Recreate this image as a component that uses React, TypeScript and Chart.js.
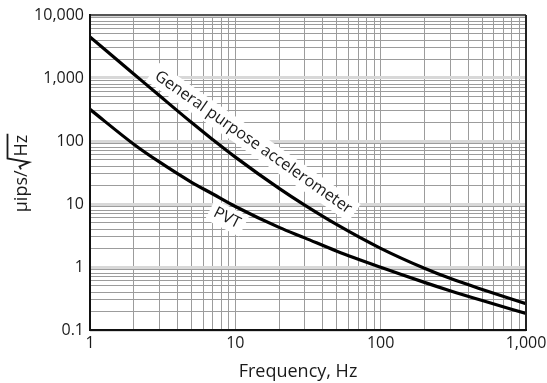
import React, { useEffect, useRef } from "react";
import { Chart, registerables } from "chart.js";

Chart.register(...registerables);

// ---- data ----
const FREQ_HZ = [1, 2, 3, 5, 7, 10, 20, 30, 50, 100, 200, 300, 500, 1000];
const GENERAL_PURPOSE = [4480, 1160, 526, 196, 105, 55.5, 17.7, 9.6, 4.7, 1.98, 0.955, 0.66, 0.44, 0.262];
const PVT = [318, 89, 46.5, 22.1, 14.4, 9.12, 4.25, 2.9, 1.78, 0.99, 0.57, 0.42, 0.293, 0.183];

const Y_TICKS = [0.1, 1, 10, 100, 1000, 10000];
const Y_TICK_LABELS = ["0.1", "1", "10", "100", "1,000", "10,000"];
const X_TICKS = [1, 10, 100, 1000];
const X_TICK_LABELS = ["1", "10", "100", "1,000"];
const GRID_MULTIPLIERS = [1, 2, 3, 4, 5, 6, 7, 8, 9];

const GENERAL_LABEL = "General purpose accelerometer";
const PVT_LABEL = "PVT";
const X_TITLE = "Frequency, Hz";
const Y_TITLE_MAIN = "µips/";
const Y_TITLE_ROOT = "Hz";

// label anchors in data coordinates (freq, value) and angle in degrees
const GENERAL_LABEL_AT = { f: 13.3, v: 95, angle: 35 };
const PVT_LABEL_AT = { f: 8.77, v: 6.0, angle: 27 };

const FONT = "'Open Sans', 'DejaVu Sans', sans-serif";
const TEXT_COLOR = "#1a1a1a";

function isDecade(v: number) {
  const l = Math.log10(v);
  return Math.abs(l - Math.round(l)) < 1e-6;
}

function gridTicks(min: number, max: number) {
  const out: { value: number }[] = [];
  const e0 = Math.round(Math.log10(min));
  const e1 = Math.round(Math.log10(max));
  for (let e = e0; e <= e1; e++) {
    for (const m of GRID_MULTIPLIERS) {
      const v = m * Math.pow(10, e);
      if (v > max * 1.0001) break;
      out.push({ value: v });
    }
  }
  return out;
}

function labelFor(value: number, ticks: number[], labels: string[]) {
  for (let i = 0; i < ticks.length; i++) {
    if (Math.abs(value - ticks[i]) / ticks[i] < 1e-6) return labels[i];
  }
  return "";
}

function drawRotatedLabel(ctx: CanvasRenderingContext2D, text: string, cx: number, cy: number, angleDeg: number) {
  ctx.save();
  ctx.translate(cx, cy);
  ctx.rotate((angleDeg * Math.PI) / 180);
  ctx.font = `16px ${FONT}`;
  const w = ctx.measureText(text).width;
  ctx.fillStyle = "#ffffff";
  ctx.fillRect(-w / 2 - 5, -11, w + 10, 22);
  ctx.fillStyle = TEXT_COLOR;
  ctx.textAlign = "center";
  ctx.textBaseline = "middle";
  ctx.fillText(text, 0, 0);
  ctx.restore();
}

const labelsPlugin = {
  id: "curveLabels",
  beforeDatasetsDraw(chart: any) {
    const { ctx, scales } = chart;
    const x = scales.x;
    const y = scales.y;
    drawRotatedLabel(ctx, GENERAL_LABEL, x.getPixelForValue(GENERAL_LABEL_AT.f), y.getPixelForValue(GENERAL_LABEL_AT.v), GENERAL_LABEL_AT.angle);
    drawRotatedLabel(ctx, PVT_LABEL, x.getPixelForValue(PVT_LABEL_AT.f), y.getPixelForValue(PVT_LABEL_AT.v), PVT_LABEL_AT.angle);
  },
};

const framePlugin = {
  id: "frame",
  afterDatasetsDraw(chart: any) {
    const { ctx, chartArea: a } = chart;
    ctx.save();
    ctx.lineWidth = 2;
    ctx.strokeStyle = "#555";
    ctx.beginPath();
    ctx.moveTo(a.left, a.top);
    ctx.lineTo(a.right, a.top);
    ctx.stroke();
    ctx.strokeStyle = "#222";
    ctx.beginPath();
    ctx.moveTo(a.right, a.top);
    ctx.lineTo(a.right, a.bottom);
    ctx.stroke();
    ctx.strokeStyle = "#111";
    ctx.beginPath();
    ctx.moveTo(a.left, a.top - 1);
    ctx.lineTo(a.left, a.bottom);
    ctx.lineTo(a.right + 1, a.bottom);
    ctx.stroke();
    ctx.restore();
  },
};

const titlesPlugin = {
  id: "titles",
  afterDraw(chart: any) {
    const { ctx, chartArea: a } = chart;
    ctx.save();
    ctx.fillStyle = TEXT_COLOR;
    ctx.strokeStyle = TEXT_COLOR;
    ctx.font = `18px ${FONT}`;
    // x title
    ctx.textAlign = "center";
    ctx.textBaseline = "alphabetic";
    ctx.fillText(X_TITLE, (a.left + a.right) / 2 - 10, a.bottom + 46.5);

    // y title with square-root sign
    const mainW = ctx.measureText(Y_TITLE_MAIN).width;
    const hzW = ctx.measureText(Y_TITLE_ROOT).width;
    const total = mainW + 12 + hzW + 2;
    const cy = (a.top + a.bottom) / 2 + 1;
    ctx.translate(27, cy + total / 2);
    ctx.rotate(-Math.PI / 2);
    ctx.textAlign = "left";
    ctx.fillText(Y_TITLE_MAIN, 0, 0);
    const r = mainW + 1;
    ctx.lineWidth = 1.8;
    ctx.lineJoin = "miter";
    ctx.beginPath();
    ctx.moveTo(r, -6);
    ctx.lineTo(r + 3, -7.5);
    ctx.lineTo(r + 7, 2);
    ctx.lineTo(r + 11, -19.5);
    ctx.lineTo(r + 13 + hzW + 1, -19.5);
    ctx.stroke();
    ctx.fillText(Y_TITLE_ROOT, r + 13, 0);
    ctx.restore();
  },
};

export default function App() {
  const canvasRef = useRef<HTMLCanvasElement | null>(null);

  useEffect(() => {
    const canvas = canvasRef.current;
    if (!canvas) return;
    const chart = new Chart(canvas, {
      type: "line",
      data: {
        datasets: [
          {
            label: "General purpose accelerometer",
            data: FREQ_HZ.map((f, i) => ({ x: f, y: GENERAL_PURPOSE[i] })),
            borderColor: "#000",
            borderWidth: 3.2,
            pointRadius: 0,
            cubicInterpolationMode: "monotone",
            fill: false,
          },
          {
            label: "PVT",
            data: FREQ_HZ.map((f, i) => ({ x: f, y: PVT[i] })),
            borderColor: "#000",
            borderWidth: 3.2,
            pointRadius: 0,
            cubicInterpolationMode: "monotone",
            fill: false,
          },
        ],
      },
      options: {
        responsive: false,
        animation: false,
        layout: { padding: { top: 15, right: 21, left: 0, bottom: 0 } },
        plugins: { legend: { display: false }, tooltip: { enabled: false }, title: { display: false } },
        scales: {
          x: {
            type: "logarithmic",
            min: 1,
            max: 1000,
            afterBuildTicks: (s: any) => {
              s.ticks = gridTicks(1, 1000);
            },
            afterFit: (s: any) => {
              s.height = 53;
              s.paddingLeft = 0;
              s.paddingRight = 0;
            },
            ticks: {
              autoSkip: false,
              maxRotation: 0,
              padding: 4,
              color: TEXT_COLOR,
              font: { family: FONT, size: 16 },
              callback: (v: any) => labelFor(Number(v), X_TICKS, X_TICK_LABELS),
            },
            grid: {
              drawTicks: false,
              color: "#9c9c9c",
              lineWidth: 1,
            },
            border: { display: false },
          },
          y: {
            type: "logarithmic",
            min: 0.1,
            max: 10000,
            afterBuildTicks: (s: any) => {
              s.ticks = gridTicks(0.1, 10000);
            },
            afterFit: (s: any) => {
              s.width = 90;
              s.paddingTop = 0;
              s.paddingBottom = 0;
            },
            ticks: {
              autoSkip: false,
              padding: 6,
              color: TEXT_COLOR,
              font: { family: FONT, size: 16 },
              callback: (v: any) => labelFor(Number(v), Y_TICKS, Y_TICK_LABELS),
            },
            grid: {
              drawTicks: false,
              color: (c: any) => (c.tick && isDecade(c.tick.value) ? "#d8d8d8" : "#9c9c9c"),
              lineWidth: (c: any) => (c.tick && isDecade(c.tick.value) ? 3 : 1),
            },
            border: { display: false },
          },
        },
      },
      plugins: [labelsPlugin, framePlugin, titlesPlugin],
    } as any);
    return () => chart.destroy();
  }, []);

  return (
    <canvas
      ref={canvasRef}
      width={547}
      height={383}
      style={{ position: "absolute", left: 0, top: 0, display: "block", background: "#fff" }}
    />
  );
}
